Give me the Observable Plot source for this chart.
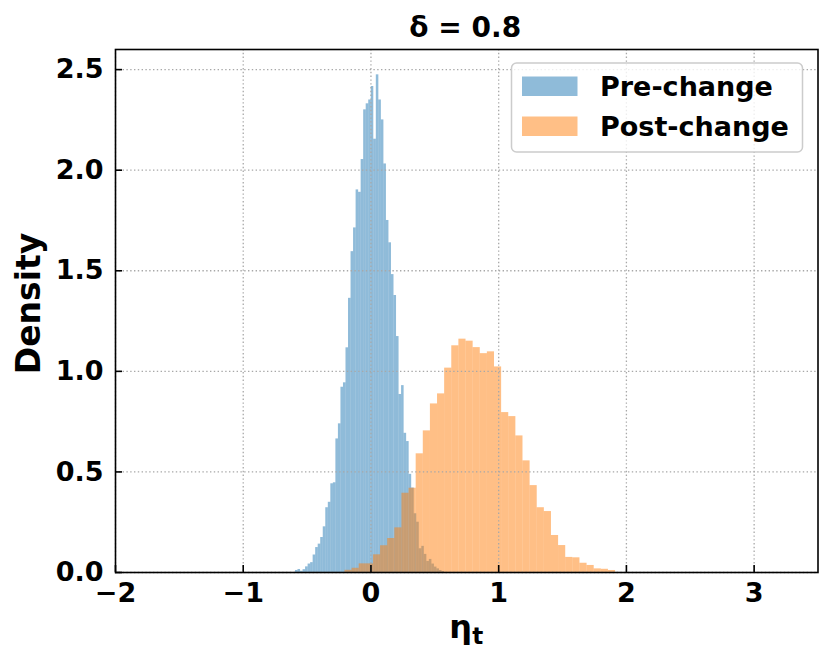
<!DOCTYPE html>
<html><head><meta charset="utf-8">
<script src="https://cdn.jsdelivr.net/npm/d3@7"></script>
<script src="https://cdn.jsdelivr.net/npm/@observablehq/plot@0.6"></script>
<style>body{margin:0;background:#fff} #chart{width:830px;height:662px}</style>
</head><body><div id="chart"></div><script>
// ---- data ----
const seriesNames = ["Pre-change", "Post-change"];
const seriesColors = ["#1f77b4", "#ff7f0e"];
const titleText = "δ = 0.8";
const xTicks = [-2, -1, 0, 1, 2, 3];
const yTicks = [0, 0.5, 1, 1.5, 2, 2.5];

const preStart = -0.591, preWidth = 0.01978;
const preDensity = [0.010,0.015,0.006,0.014,0.028,0.042,0.049,0.087,0.124,0.141,
  0.174,0.227,0.322,0.349,0.441,0.446,0.664,0.739,0.921,0.943,
  1.117,1.363,1.595,1.713,1.902,1.890,2.053,2.300,2.330,2.349,
  2.416,2.154,2.474,2.349,2.250,2.031,1.750,1.639,1.481,1.377,
  1.173,0.885,0.929,0.692,0.651,0.488,0.420,0.292,0.250,0.118,
  0.130,0.090,0.055,0.065,0.042,0.027,0.018,0.010,0.005];

const postStart = -0.2035, postWidth = 0.05575;
const postDensity = [0.011,0.021,0.043,0.043,0.088,0.133,0.169,0.222,0.394,0.419,
  0.590,0.704,0.838,0.888,1.016,1.127,1.160,1.150,1.118,1.088,
  1.097,1.022,0.795,0.775,0.679,0.555,0.432,0.322,0.303,0.184,
  0.134,0.075,0.073,0.046,0.035,0.018,0.016,0.010];

const bins = (start, width, dens, series) =>
  dens.map((d, i) => ({x1: start + i * width, x2: start + (i + 1) * width, y: d, series}));
const data = [
  ...bins(preStart, preWidth, preDensity, seriesNames[0]),
  ...bins(postStart, postWidth, postDensity, seriesNames[1])
];

// ---- layout ----
const W = 830, H = 662, mL = 115, mR = 12.5, mT = 49, mB = 90;
const plotW = W - mL - mR, plotH = H - mT - mB;
const font = "DejaVu Sans, sans-serif";
const gridStyle = {stroke: "#a8a8a8", strokeOpacity: 1, strokeDasharray: "1.4,2.4", strokeWidth: 1.3};

const chart = Plot.plot({
  width: W, height: H,
  marginLeft: mL, marginRight: mR, marginTop: mT, marginBottom: mB,
  style: {fontFamily: font, fontWeight: "bold", fontSize: "27px", background: "#fff", color: "#000"},
  x: {domain: [-2, 3.5], label: null},
  y: {domain: [0, 2.6], label: null},
  color: {domain: seriesNames, range: seriesColors},
  marks: [
    Plot.rectY(data, {x1: "x1", x2: "x2", y: "y", fill: "series", fillOpacity: 0.5}),
    Plot.gridX(xTicks, gridStyle),
    Plot.gridY(yTicks, gridStyle),
    Plot.tickX(xTicks, {x: d => d, insetTop: plotH - 7, stroke: "black", strokeWidth: 1.6}),
    Plot.tickY(yTicks, {y: d => d, insetRight: plotW - 7, stroke: "black", strokeWidth: 1.6}),
    Plot.axisX(xTicks, {tickSize: 0, tickPadding: 10, fontSize: 27, fontWeight: "bold",
      tickFormat: d => d < 0 ? "\u2212" + Math.abs(d) : String(d)}),
    Plot.axisY(yTicks, {tickSize: 0, tickPadding: 12, fontSize: 27, fontWeight: "bold",
      tickFormat: d => d.toFixed(1)}),
    Plot.frame({stroke: "black", strokeWidth: 1.6})
  ]
});
document.getElementById("chart").appendChild(chart);

// ---- title, axis labels, legend ----
const svg = d3.select(chart);
svg.append("text").attr("x", mL + plotW / 2 - 1).attr("y", 37)
  .attr("text-anchor", "middle").attr("font-family", font).attr("font-weight", "bold")
  .attr("font-size", 28).attr("fill", "#000").text(titleText);

const xl = svg.append("text").attr("x", mL + plotW / 2).attr("y", 638)
  .attr("text-anchor", "middle").attr("font-family", font).attr("font-weight", "bold")
  .attr("font-size", 32).attr("fill", "#000");
xl.append("tspan").text("η");
xl.append("tspan").attr("font-size", 23).attr("dy", 6).text("t");

svg.append("text").attr("transform", `translate(40,${mT + plotH / 2 - 7}) rotate(-90)`)
  .attr("text-anchor", "middle").attr("font-family", font).attr("font-weight", "bold")
  .attr("font-size", 33).attr("fill", "#000").text("Density");

const lg = svg.append("g");
lg.append("rect").attr("x", 511.5).attr("y", 63).attr("width", 291).attr("height", 89)
  .attr("rx", 5).attr("fill", "#fff").attr("fill-opacity", 0.8)
  .attr("stroke", "#cccccc").attr("stroke-width", 1.5);
seriesNames.forEach((name, i) => {
  const cy = 86 + i * 40;
  lg.append("rect").attr("x", 522).attr("y", cy - 9.5).attr("width", 55.5).attr("height", 19.5)
    .attr("fill", seriesColors[i]).attr("fill-opacity", 0.5);
  lg.append("text").attr("x", 600).attr("y", cy).attr("dy", "0.36em")
    .attr("text-anchor", "start")
    .attr("font-family", font).attr("font-weight", "bold").attr("font-size", 27)
    .attr("fill", "#000").text(name);
});
</script></body></html>
